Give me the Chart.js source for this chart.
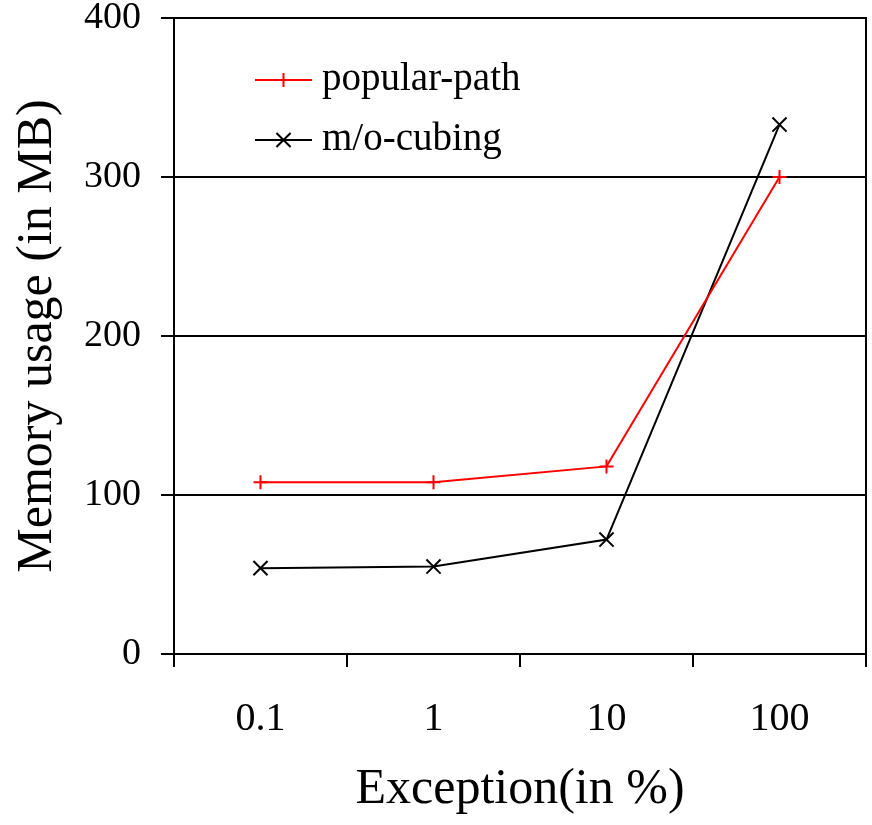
<!DOCTYPE html>
<html>
<head>
<meta charset="utf-8">
<script src="https://cdn.jsdelivr.net/npm/chart.js@4/dist/chart.umd.min.js"></script>
<style>
  html, body { margin: 0; padding: 0; background: #fff; }
  #wrap { width: 872px; height: 825px; }
</style>
</head>
<body>
<div id="wrap"><canvas id="c" width="872" height="825"></canvas></div>
<script>
const categories = ['0.1', '1', '10', '100'];
const popularPath = [108, 108, 118, 300];
const moCubing = [54, 55, 72, 333];
const yTicks = [0, 100, 200, 300, 400];
const seriesNames = ['popular-path', 'm/o-cubing'];
const xTitle = 'Exception(in %)';
const yTitle = 'Memory usage (in MB)';

const FONT = "'Liberation Serif', 'Times New Roman', serif";

const legendPlugin = {
  id: 'insideLegend',
  afterDatasetsDraw(chart) {
    const ctx = chart.ctx;
    const area = chart.chartArea;
    ctx.save();
    chart.data.datasets.forEach((ds, i) => {
      const y = area.top + 62 + i * 60;
      const x0 = area.left + 81, x1 = area.left + 138;
      ctx.strokeStyle = ds.borderColor;
      ctx.lineWidth = 2;
      ctx.beginPath(); ctx.moveTo(x0, y); ctx.lineTo(x1, y); ctx.stroke();
      Chart.helpers.drawPoint(ctx, {
        pointStyle: ds.pointStyle, radius: ds.pointRadius, borderWidth: 2
      }, (x0 + x1) / 2, y);
      ctx.fillStyle = '#000';
      ctx.font = '39px ' + FONT;
      ctx.textBaseline = 'middle';
      ctx.textAlign = 'left';
      ctx.fillText(ds.label, area.left + 148, y);
    });
    ctx.restore();
  }
};

new Chart(document.getElementById('c'), {
  type: 'line',
  data: {
    labels: categories,
    datasets: [
      {
        label: seriesNames[0], data: popularPath,
        borderColor: '#ff0000', backgroundColor: '#ff0000',
        borderWidth: 2, pointStyle: 'cross', pointRadius: 7,
        pointBorderWidth: 2, pointBorderColor: '#ff0000', tension: 0, fill: false
      },
      {
        label: seriesNames[1], data: moCubing,
        borderColor: '#000000', backgroundColor: '#000000',
        borderWidth: 2, pointStyle: 'crossRot', pointRadius: 10,
        pointBorderWidth: 2, pointBorderColor: '#000000', tension: 0, fill: false
      }
    ]
  },
  options: {
    responsive: false,
    animation: false,
    devicePixelRatio: 1,
    layout: { autoPadding: false, padding: { top: 0, right: 6, left: 0, bottom: 0 } },
    plugins: { legend: { display: false }, tooltip: { enabled: false } },
    scales: {
      x: {
        type: 'category',
        offset: true,
        grid: { offset: true, drawOnChartArea: false, drawTicks: true, tickLength: 13, color: '#000', lineWidth: 2 },
        border: { display: true, color: '#000', width: 2 },
        ticks: { color: '#000', font: { family: FONT, size: 40 }, padding: 28, maxRotation: 0 },
        title: { display: true, text: xTitle, color: '#000', font: { family: FONT, size: 50 }, padding: { top: 0, bottom: 5 } },
        afterFit(scale) { scale.height = 171; scale.paddingLeft = 0; scale.paddingRight = 0; }
      },
      y: {
        min: 0, max: 400,
        afterBuildTicks(scale) { scale.ticks = yTicks.map(v => ({ value: v })); },
        grid: { color: '#000', lineWidth: 2, tickLength: 13, drawTicks: true },
        border: { display: true, color: '#000', width: 2 },
        ticks: { color: '#000', font: { family: FONT, size: 38 }, padding: 20 },
        title: { display: true, text: yTitle, color: '#000', font: { family: FONT, size: 50 }, padding: { top: 8, bottom: 0 } },
        afterFit(scale) { scale.width = 174; scale.paddingTop = 18; scale.paddingBottom = 0; }
      },
      y2: {
        position: 'right', min: 0, max: 400,
        grid: { display: false },
        border: { display: true, color: '#000', width: 2 },
        ticks: { display: false },
        afterFit(scale) { scale.width = 0; scale.paddingTop = 0; scale.paddingBottom = 0; }
      }
    }
  },
  plugins: [legendPlugin]
});
</script>
</body>
</html>
